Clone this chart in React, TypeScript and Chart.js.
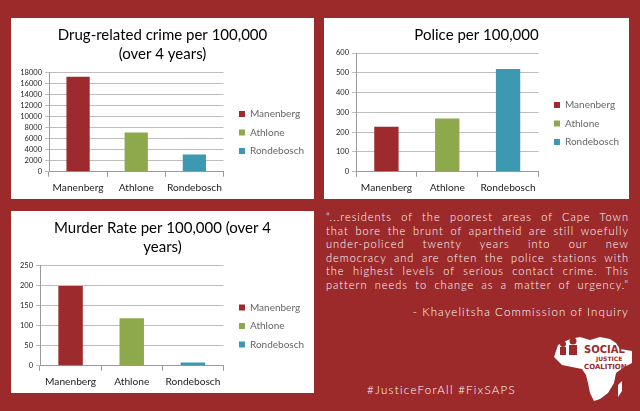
import React, { useEffect, useRef } from "react";
import { Chart, registerables } from "chart.js";

Chart.register(...registerables);

const categories = ["Manenberg", "Athlone", "Rondebosch"];
const drugCrimeValues = [17150, 7100, 3100];
const policeValues = [227, 269, 520];
const murderValues = [198, 118, 8];

const drugTitle = ["Drug-related crime per 100,000", "(over 4 years)"];
const policeTitle = "Police per 100,000";
const murderTitle = ["Murder Rate per 100,000 (over 4", "years)"];

const quoteLines = [
  "\u201C...residents of the poorest areas of Cape Town",
  "that bore the brunt of apartheid are still woefully",
  "under-policed twenty years into our new",
  "democracy and are often the police stations with",
  "the highest levels of serious contact crime. This",
  "pattern needs to change as a matter of urgency.\u201D",
];
const attribution = "- Khayelitsha Commission of Inquiry";
const hashtags = "#JusticeForAll #FixSAPS";

const BG = "#9c2a2b";
const barColors = ["#9d2b2d", "#8ea84c", "#3d98b1"];
const FONT = "Lato, 'Open Sans', sans-serif";

type PanelProps = {
  left: number;
  top: number;
  width: number;
  height: number;
  title: string | string[];
  values: number[];
  max: number;
  step: number;
  axisWidth: number;
  legendOffset: number;
};

function BarPanel({
  left,
  top,
  width,
  height,
  title,
  values,
  max,
  step,
  axisWidth,
  legendOffset,
}: PanelProps) {
  const ref = useRef<HTMLCanvasElement>(null);
  useEffect(() => {
    const chart = new Chart(ref.current as HTMLCanvasElement, {
      type: "bar",
      data: {
        labels: categories,
        datasets: [
          {
            data: values,
            backgroundColor: barColors,
            borderWidth: 0,
            barPercentage: 0.4,
            categoryPercentage: 1,
          },
        ],
      },
      options: {
        animation: false,
        responsive: false,
        maintainAspectRatio: false,
        devicePixelRatio: 1,
        layout: { padding: { left: 0, right: 0, top: 8, bottom: 0 } },
        plugins: {
          title: {
            display: true,
            text: title,
            color: "#000",
            font: { family: FONT, size: 15, weight: "normal", lineHeight: 1.27 },
            padding: { top: 0, bottom: 8 },
          },
          legend: {
            position: "right",
            maxWidth: 120,
            title: {
              display: true,
              text: "",
              font: { size: 1 },
              padding: { top: legendOffset, bottom: 0 },
            },
            labels: {
              boxWidth: 6,
              boxHeight: 6,
              padding: 8.5,
              color: "#222",
              font: { family: FONT, size: 10 },
              generateLabels: () =>
                categories.map((c, i) => ({
                  text: c,
                  fillStyle: barColors[i],
                  strokeStyle: barColors[i],
                  lineWidth: 0,
                  hidden: false,
                  index: i,
                  datasetIndex: 0,
                })),
            },
          },
          tooltip: { enabled: false },
        },
        scales: {
          x: {
            grid: {
              display: true,
              drawOnChartArea: false,
              drawTicks: true,
              offset: true,
              tickLength: 5,
              color: "#9a9a9a",
            },
            border: { color: "#9a9a9a" },
            ticks: {
              color: "#222",
              font: { family: FONT, size: 10.2 },
              padding: 5,
              maxRotation: 0,
              autoSkip: false,
            },
          },
          y: {
            min: 0,
            max: max,
            afterFit: (s: any) => {
              s.width = axisWidth;
            },
            ticks: {
              stepSize: step,
              autoSkip: false,
              callback: (v: any) => String(v),
              color: "#222",
              font: { family: FONT, size: 7.5 },
              padding: 3,
            },
            grid: { color: "#bdbdbd", tickLength: 4 },
            border: { color: "#9a9a9a" },
          },
          gap: {
            type: "linear",
            position: "right",
            display: true,
            ticks: { display: false },
            grid: { display: false },
            border: { display: false },
            afterFit: (s: any) => {
              s.width = 7;
            },
          },
        },
      } as any,
    });
    return () => chart.destroy();
  }, []);
  return (
    <div
      style={{
        position: "absolute",
        left,
        top,
        width,
        height,
        background: "#fff",
      }}
    >
      <canvas ref={ref} width={width} height={height} style={{ display: "block" }} />
    </div>
  );
}

function Logo() {
  return (
    <svg
      width={84}
      height={72}
      viewBox="0 0 84 72"
      style={{ position: "absolute", left: 550, top: 333 }}
    >
      <path
        d="M8,12 L20,6 L30,4 L40,7 L50,4 L60,6 L66,10 L70,16 L82,18 L82,30 L74,34 L66,40 L64,50 L58,60 L50,66 L44,68 L40,60 L38,50 L36,42 L32,36 L22,34 L12,32 L4,24 Z"
        fill="#fff"
      />
      <path d="M68,52 L72,48 L72,58 L68,64 Z" fill="#fff" />
      <rect x="10" y="14" width="6" height="8" fill={BG} />
      <circle cx="13" cy="11" r="3" fill={BG} />
      <rect x="19" y="12" width="8" height="10" fill={BG} />
      <circle cx="23" cy="8" r="3.5" fill={BG} />
      <text x="34" y="20" fill={BG} fontFamily="DejaVu Sans" fontWeight="bold" fontSize="10">
        SOCIAL
      </text>
      <text x="46" y="28" fill={BG} fontFamily="DejaVu Sans" fontWeight="bold" fontSize="6">
        JUSTICE
      </text>
      <text x="34" y="36" fill={BG} fontFamily="DejaVu Sans" fontWeight="bold" fontSize="7">
        COALITION
      </text>
    </svg>
  );
}

export default function App() {
  return (
    <div
      style={{
        position: "fixed",
        left: 0,
        top: 0,
        width: 640,
        height: 411,
        background: BG,
        overflow: "hidden",
        fontFamily: FONT,
      }}
    >
      <BarPanel
        left={11}
        top={18}
        width={303}
        height={181}
        title={drugTitle}
        values={drugCrimeValues}
        max={18000}
        step={2000}
        axisWidth={38}
        legendOffset={38.8}
      />
      <BarPanel
        left={324}
        top={18}
        width={305}
        height={181}
        title={policeTitle}
        values={policeValues}
        max={600}
        step={100}
        axisWidth={32}
        legendOffset={20.8}
      />
      <BarPanel
        left={11}
        top={211}
        width={303}
        height={182}
        title={murderTitle}
        values={murderValues}
        max={250}
        step={50}
        axisWidth={29}
        legendOffset={38.8}
      />
      <div
        style={{
          position: "absolute",
          left: 326,
          top: 210,
          width: 303,
          color: "#fff",
          fontSize: 11,
          fontWeight: 300,
          lineHeight: "13.5px",
          letterSpacing: "1px",
        }}
      >
        {quoteLines.map((l, i) => (
          <div key={i} style={{ textAlign: "justify", textAlignLast: "justify" as any }}>
            {l}
          </div>
        ))}
      </div>
      <div
        style={{
          position: "absolute",
          right: 11,
          top: 304,
          color: "#fff",
          fontSize: 11.5,
          fontWeight: 300,
          lineHeight: "16px",
          letterSpacing: "1.1px",
          whiteSpace: "nowrap",
        }}
      >
        {attribution}
      </div>
      <div
        style={{
          position: "absolute",
          left: 367,
          top: 382,
          color: "#fff",
          fontSize: 11.5,
          fontWeight: 300,
          lineHeight: "16px",
          letterSpacing: "1.3px",
          whiteSpace: "nowrap",
        }}
      >
        {hashtags}
      </div>
      <Logo />
    </div>
  );
}
